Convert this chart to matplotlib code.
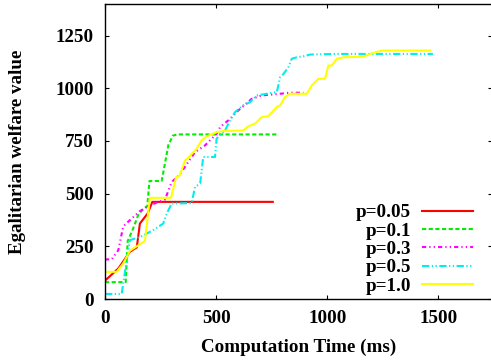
import matplotlib
matplotlib.use("Agg")
import matplotlib.pyplot as plt

# p=0.05
t_005 = [0, 60, 112, 143, 157, 192, 213, 755]
v_005 = [87, 145, 224, 245, 358, 406, 461, 461]
# p=0.1
t_01 = [0, 93, 102, 125, 150, 175, 190, 200, 255, 285, 305, 325, 780]
v_01 = [80, 80, 275, 330, 400, 430, 440, 560, 560, 730, 775, 781, 781]
# p=0.3
t_03 = [0, 30, 60, 82, 112, 157, 202, 270, 300, 337, 390, 405, 450, 465,
        487, 502, 518, 563, 600, 660, 705, 788, 832, 893]
v_03 = [188, 188, 232, 345, 374, 417, 445, 472, 555, 592, 674, 697, 729, 745,
        768, 784, 816, 855, 895, 950, 966, 974, 979, 979]
# p=0.5
t_05 = [0, 75, 98, 112, 165, 217, 262, 278, 300, 390, 405, 428, 442, 495,
        502, 540, 563, 585, 622, 652, 683, 728, 773, 788, 803, 825, 840, 863,
        893, 923, 1028, 1475]
v_05 = [24, 24, 185, 279, 298, 327, 358, 406, 453, 455, 532, 548, 674, 674,
        761, 800, 848, 887, 919, 934, 966, 974, 982, 1052, 1068, 1100, 1140,
        1147, 1152, 1160, 1163, 1163]
# p=1.0
t_10 = [0, 53, 82, 98, 112, 180, 202, 297, 320, 337, 360, 375, 412, 435,
        458, 503, 532, 622, 645, 675, 705, 735, 773, 788, 810, 832, 908, 930,
        960, 990, 1005, 1020, 1043, 1073, 1163, 1193, 1245, 1463]
v_10 = [129, 129, 169, 200, 229, 276, 480, 480, 579, 587, 658, 671, 713, 753,
        772, 792, 797, 800, 820, 832, 863, 868, 911, 919, 958, 974, 974, 1013,
        1045, 1045, 1108, 1108, 1140, 1147, 1150, 1163, 1179, 1179]

plt.rcParams['font.family'] = ['Liberation Serif', 'DejaVu Serif']
plt.rcParams['font.weight'] = 'bold'
plt.rcParams['font.size'] = 13.7

fig = plt.figure(figsize=(4.91, 3.6), dpi=100)
ax = fig.add_axes([105 / 491, 61 / 360, 387 / 491, 295 / 360])

lw = 1.5
ax.plot(t_005, v_005, color='#ff0000', lw=lw, label='p=0.05')
ax.plot(t_01, v_01, color='#00ee00', lw=lw, ls=(0, (2, 1.2)), label='p=0.1')
ax.plot(t_03, v_03, color='#ff00ff', lw=lw, ls=(0, (2, 1.5, 0.6, 1.5, 0.6, 1.5)), label='p=0.3')
ax.plot(t_05, v_05, color='#00eeee', lw=lw, ls=(0, (3.5, 1.2, 0.6, 1.2, 0.6, 1.2)), label='p=0.5')
ax.plot(t_10, v_10, color='#ffff00', lw=lw, label='p=1.0')

ax.set_xlim(0, 1741)
ax.set_ylim(0, 1400)
ax.set_xticks([0, 500, 1000, 1500])
ax.set_yticks([0, 250, 500, 750, 1000, 1250])
ax.tick_params(direction='in', length=3, width=0.8, top=True, right=True, pad=8)
for s in ax.spines.values():
    s.set_linewidth(1.0)

ax.set_xlabel('Computation Time (ms)', fontweight='bold', labelpad=8)
ax.set_ylabel('Egalitarian welfare value', fontweight='bold', labelpad=21)

leg = ax.legend(loc='lower right', bbox_to_anchor=(0.985, -0.03), frameon=False,
                markerfirst=False, handlelength=2.65, handletextpad=0.6,
                labelspacing=0.05, borderpad=0.2)
for t in leg.get_texts():
    t.set_ha('right')

fig.savefig('out.png', dpi=100)
